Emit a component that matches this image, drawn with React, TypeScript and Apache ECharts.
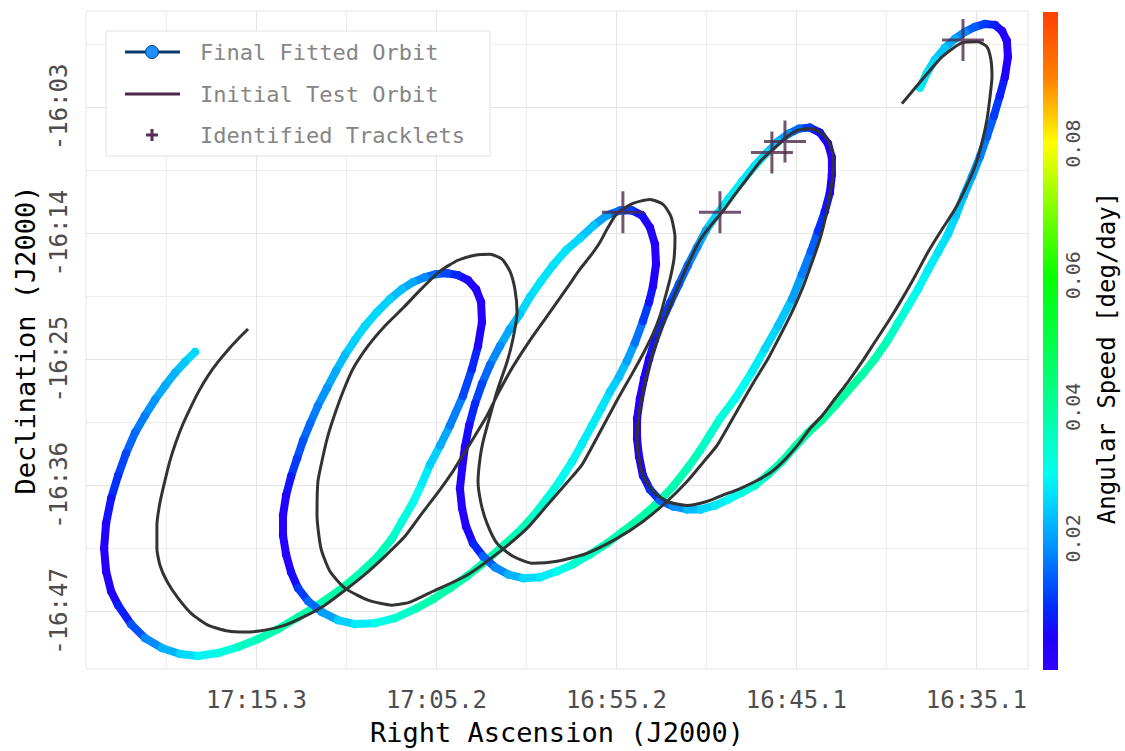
import React, { useEffect, useRef } from 'react';
import * as echarts from 'echarts';

// ---------- data (RA in minutes after 16h, Dec in arcmin relative to -16°00') ----------
const fittedRA = [
  78.73, 79.29, 79.85, 80.41, 80.97, 81.53, 82.08, 82.59, 83.03, 83.42,
  83.70, 83.81, 83.70, 83.42, 83.03, 82.31, 81.53, 80.58, 79.57, 78.57,
  77.45, 76.33, 75.22, 74.10, 72.98, 71.87, 70.75, 69.63, 68.52, 67.73,
  67.18, 66.56, 66.06, 65.61, 65.05, 64.50, 63.77, 63.27, 62.93, 62.71,
  62.76, 63.04, 63.49, 64.05, 64.66, 65.28, 65.89, 66.56, 67.18, 67.85,
  68.57, 69.24, 69.80, 70.36, 70.86, 71.36, 71.87, 72.31, 72.70, 73.04,
  73.37, 73.65, 73.82, 73.82, 73.65, 73.37, 72.98, 72.42, 71.64, 70.75,
  69.80, 68.68, 67.57, 66.34, 65.44, 64.50, 63.55, 62.65, 61.70, 60.75,
  59.86, 59.08, 58.35, 57.68, 57.12, 56.57, 56.06, 55.56, 55.06, 54.61,
  54.17, 53.72, 53.38, 53.16, 52.99, 53.05, 53.33, 53.78, 54.33, 55.00,
  55.73, 56.46, 57.24, 58.02, 58.74, 59.41, 60.03, 60.59, 61.15, 61.70,
  62.26, 62.71, 63.10, 63.43, 63.66, 63.82, 63.94, 63.82, 63.60, 63.21,
  62.65, 61.98, 61.26, 60.42, 59.47, 58.52, 57.63, 56.68, 55.73, 54.84,
  53.89, 52.94, 52.04, 51.21, 50.54, 49.98, 49.42, 48.58, 47.63, 46.91,
  46.18, 45.40, 44.84, 44.34, 43.95, 43.56, 43.28, 43.17, 43.17, 43.39,
  43.84, 44.40, 45.01, 45.57, 46.18, 46.80, 47.47, 48.19, 48.92, 49.59,
  50.20, 50.70, 51.21, 51.71, 52.21, 52.66, 53.05, 53.38, 53.66, 53.89,
  54.05, 54.05, 53.94, 53.72, 53.33, 52.77, 52.04, 51.26, 50.48, 49.70,
  48.97, 48.19, 47.47, 46.74, 45.96, 45.23, 44.51, 43.72, 43.00, 42.27,
  41.49, 40.77, 40.04, 39.48, 38.92, 38.36, 37.81, 37.25, 36.69, 36.24,
  35.80, 35.35, 34.90, 34.51, 34.12, 33.79, 33.51, 33.34, 33.40, 33.67,
  34.07, 34.62, 35.18, 35.74, 36.30, 36.86, 37.42, 37.86, 38.25,
];
const fittedDec = [
  -24.37, -25.24, -26.19, -27.32, -28.54, -29.93, -31.41, -33.23, -35.15, -37.15,
  -39.32, -41.50, -43.50, -45.24, -46.45, -48.10, -49.32, -50.19, -50.71, -50.89,
  -50.63, -50.10, -49.41, -48.54, -47.50, -46.45, -45.24, -43.84, -42.19, -40.63,
  -39.15, -37.50, -35.84, -34.19, -32.54, -30.80, -28.19, -25.84, -23.84, -21.76,
  -20.02, -18.89, -18.10, -17.67, -17.50, -17.58, -17.84, -18.28, -18.89, -19.76,
  -20.89, -22.10, -23.32, -24.63, -26.02, -27.50, -29.06, -30.63, -32.10, -33.67,
  -35.24, -36.89, -38.63, -40.37, -42.02, -43.58, -44.97, -46.10, -47.06, -47.76,
  -48.10, -48.02, -47.58, -46.71, -45.93, -44.97, -43.93, -42.80, -41.50, -40.19,
  -38.71, -37.15, -35.58, -33.93, -32.37, -30.80, -29.32, -27.84, -26.54, -25.15,
  -23.58, -21.67, -20.02, -18.63, -16.71, -14.97, -13.50, -12.45, -12.02, -12.02,
  -12.45, -13.32, -14.45, -15.50, -16.80, -18.19, -19.58, -21.06, -22.37, -23.84,
  -25.50, -27.15, -28.89, -30.80, -32.63, -34.54, -36.28, -38.02, -39.58, -41.06,
  -42.19, -43.15, -43.76, -44.10, -44.02, -43.50, -42.89, -42.02, -41.06, -40.02,
  -38.89, -37.58, -36.10, -34.45, -32.97, -31.58, -30.19, -28.45, -26.10, -24.10,
  -22.10, -19.76, -17.58, -15.58, -13.84, -12.10, -10.45, -8.89, -7.41, -6.19,
  -5.24, -4.80, -4.89, -5.32, -6.02, -6.97, -8.10, -9.50, -10.97, -12.37,
  -13.76, -15.24, -16.80, -18.45, -20.10, -21.67, -23.32, -24.97, -26.71, -28.45,
  -30.19, -31.93, -33.50, -35.15, -36.37, -37.32, -37.84, -38.10, -38.10, -37.76,
  -37.24, -36.63, -36.02, -35.06, -33.93, -32.63, -31.41, -30.28, -29.06, -27.76,
  -26.37, -24.97, -23.32, -21.84, -20.37, -18.89, -17.24, -15.67, -14.10, -12.45,
  -10.71, -9.06, -7.32, -5.58, -3.76, -2.02, -0.37, 1.37, 2.77, 3.63,
  4.16, 4.24, 3.98, 3.55, 2.94, 2.16, 1.11, -0.02, -1.32,
];
const fittedSpeed = [
  0.026, 0.024, 0.022, 0.021, 0.019, 0.017, 0.015, 0.012, 0.010, 0.007,
  0.004, 0.003, 0.003, 0.005, 0.008, 0.013, 0.018, 0.022, 0.026, 0.029,
  0.032, 0.035, 0.037, 0.038, 0.038, 0.038, 0.038, 0.037, 0.036, 0.034,
  0.032, 0.030, 0.028, 0.025, 0.021, 0.017, 0.012, 0.009, 0.005, 0.003,
  0.003, 0.004, 0.006, 0.009, 0.012, 0.015, 0.018, 0.021, 0.023, 0.025,
  0.026, 0.026, 0.025, 0.023, 0.021, 0.019, 0.017, 0.015, 0.013, 0.011,
  0.007, 0.004, 0.003, 0.003, 0.003, 0.006, 0.011, 0.015, 0.020, 0.025,
  0.028, 0.031, 0.034, 0.037, 0.038, 0.038, 0.038, 0.038, 0.037, 0.036,
  0.034, 0.032, 0.030, 0.029, 0.028, 0.028, 0.027, 0.025, 0.023, 0.020,
  0.016, 0.011, 0.007, 0.005, 0.003, 0.003, 0.004, 0.007, 0.011, 0.015,
  0.020, 0.024, 0.026, 0.027, 0.027, 0.027, 0.026, 0.024, 0.021, 0.018,
  0.015, 0.012, 0.009, 0.006, 0.004, 0.003, 0.003, 0.003, 0.005, 0.009,
  0.014, 0.018, 0.022, 0.026, 0.028, 0.031, 0.034, 0.036, 0.037, 0.038,
  0.038, 0.038, 0.037, 0.036, 0.035, 0.034, 0.032, 0.030, 0.028, 0.026,
  0.024, 0.020, 0.017, 0.014, 0.010, 0.007, 0.005, 0.003, 0.003, 0.004,
  0.007, 0.011, 0.015, 0.019, 0.023, 0.026, 0.027, 0.028, 0.028, 0.025,
  0.021, 0.018, 0.015, 0.013, 0.011, 0.009, 0.007, 0.005, 0.003, 0.003,
  0.003, 0.003, 0.004, 0.007, 0.010, 0.014, 0.019, 0.023, 0.026, 0.028,
  0.030, 0.032, 0.034, 0.036, 0.037, 0.038, 0.039, 0.039, 0.039, 0.039,
  0.038, 0.037, 0.035, 0.033, 0.031, 0.029, 0.028, 0.027, 0.026, 0.024,
  0.022, 0.020, 0.017, 0.014, 0.011, 0.008, 0.005, 0.003, 0.003, 0.005,
  0.008, 0.011, 0.014, 0.018, 0.021, 0.024, 0.026, 0.027, 0.028,
];

const testRA = [
  75.77, 76.33, 76.89, 77.45, 78.01, 78.51, 78.96, 79.40, 79.79, 80.13,
  80.41, 80.69, 80.86, 80.86, 80.69, 80.30, 79.68, 78.90, 78.01, 76.89,
  75.94, 74.83, 73.71, 72.59, 71.48, 70.36, 69.24, 68.13, 67.01, 66.06,
  65.05, 64.38, 63.82, 63.10, 62.43, 61.82, 61.15, 60.53, 59.86, 59.19,
  58.52, 57.85, 57.24, 56.62, 56.12, 55.67, 55.17, 54.28, 53.33, 52.60,
  52.16, 51.93, 51.99, 52.21, 52.49, 52.77, 53.16, 53.66, 54.33, 55.12,
  56.23, 57.12, 57.96, 59.08, 60.20, 61.70, 63.55, 65.44, 66.73, 67.73,
  69.07, 70.36, 71.20, 71.70, 71.92, 71.87, 71.59, 71.31, 70.92, 70.47,
  69.91, 69.07, 68.13, 67.12, 66.11, 65.05, 64.05, 63.10, 62.26, 61.59,
  61.15, 60.87, 60.75, 60.98, 61.31, 61.82, 62.26, 62.65, 62.82, 62.93,
  62.76, 62.43, 61.87, 60.98, 59.86, 58.52, 56.85, 55.17, 53.72, 52.38,
  51.26, 50.37, 49.59, 48.97, 48.30, 47.52, 46.74, 46.07, 45.40, 44.79,
  44.28, 43.84, 43.50, 43.28, 43.11, 43.11, 43.33, 43.72, 44.28, 44.95,
  45.51, 46.29, 47.13, 47.86, 48.58, 49.31, 49.92, 50.54, 51.15, 51.82,
  52.32, 52.77, 53.27, 53.66, 53.94, 54.05, 53.94, 53.72, 53.16, 52.38,
  51.26, 50.15, 49.31, 48.30, 47.35, 46.52, 45.74, 45.06, 44.40, 43.72,
  43.00, 42.27, 41.49, 40.77, 40.04, 39.26, 38.53, 37.81, 37.02, 36.30,
  35.74, 35.18, 34.79, 34.51, 34.34, 34.23, 34.29, 34.51, 35.01, 35.91,
  37.02, 38.14, 39.26,
];
const testDec = [
  -22.37, -23.24, -24.19, -25.24, -26.45, -27.76, -29.15, -30.63, -32.19, -33.84,
  -35.58, -37.50, -39.50, -41.50, -42.97, -44.37, -45.84, -47.24, -48.19, -48.71,
  -48.80, -48.63, -48.19, -47.41, -46.45, -45.15, -43.76, -42.19, -40.45, -38.45,
  -36.37, -34.89, -33.50, -31.67, -29.93, -28.02, -26.10, -24.54, -22.97, -21.50,
  -20.02, -18.54, -17.15, -15.93, -14.80, -13.50, -12.28, -11.41, -11.06, -11.50,
  -12.54, -14.37, -16.28, -18.02, -19.67, -21.24, -22.80, -24.37, -26.28, -28.45,
  -31.67, -34.19, -35.76, -37.76, -39.76, -41.76, -43.84, -45.24, -46.19, -46.45,
  -46.02, -44.97, -43.50, -41.50, -38.63, -35.67, -33.50, -31.67, -29.76, -27.84,
  -25.84, -23.84, -22.10, -20.54, -18.89, -17.32, -16.37, -15.93, -15.84, -16.28,
  -17.32, -18.89, -20.89, -23.24, -25.24, -27.58, -29.93, -32.19, -33.67, -35.67,
  -37.58, -39.32, -41.06, -42.19, -42.80, -42.63, -41.93, -40.63, -39.15, -37.41,
  -35.67, -34.02, -32.54, -30.89, -29.06, -26.97, -24.97, -22.97, -20.89, -18.71,
  -16.54, -14.54, -12.45, -10.63, -8.89, -7.24, -6.10, -5.32, -4.89, -4.97,
  -5.41, -6.45, -7.67, -9.15, -10.63, -12.19, -13.32, -14.63, -16.54, -18.89,
  -20.80, -22.63, -24.97, -27.41, -29.76, -31.93, -33.67, -35.15, -36.54, -37.41,
  -37.76, -37.41, -36.89, -36.28, -35.58, -34.80, -33.67, -32.45, -31.06, -29.93,
  -28.45, -26.97, -25.24, -23.50, -21.76, -19.76, -17.76, -15.67, -13.67, -11.93,
  -10.19, -8.19, -6.10, -4.10, -2.10, -0.37, 1.11, 2.24, 2.68, 2.59,
  1.37, -0.63, -2.71,
];

const trackletRA = [54.84, 49.42, 46.52, 45.79, 35.85];
const trackletDec = [-12.19, -12.19, -6.97, -6.02, 2.85];

const xTickValues = [75.3, 65.25, 55.2, 45.15, 35.1];
const xTickLabels = ['17:15.3', '17:05.2', '16:55.2', '16:45.1', '16:35.1'];
const xMinorValues = [80.325, 70.275, 60.225, 50.175, 40.125];
const yTickValues = [-3, -14, -25, -36, -47];
const yTickLabels = ['-16:03', '-16:14', '-16:25', '-16:36', '-16:47'];
const yMinorValues = [2.5, -8.5, -19.5, -30.5, -41.5];
const xRange = [32.22, 84.82];
const yRange = [-52.02, 5.37];

const speedRange = [0, 0.1];
const speedTicks = [0.02, 0.04, 0.06, 0.08];
const speedColors = [
  '#3300ff', '#1e00ff', '#0030ff', '#0068ff', '#00a0ff', '#00d0ff', '#00fff0',
  '#00ffc4', '#00ff98', '#00ff70', '#00ff48', '#00ff24', '#08ff00', '#44ff00',
  '#80ff00', '#c0ff00', '#ffff00', '#ffc000', '#ff8000', '#ff6000', '#ff4000',
];

const seriesNames = ['Final Fitted Orbit', 'Initial Test Orbit', 'Identified Tracklets'];
const speedTitle = 'Angular Speed [deg/day]';
const xTitle = 'Right Ascension (J2000)';
const yTitle = 'Declination (J2000)';

const FONT = '"DejaVu Sans Mono", monospace';
const PLUS_PATH = 'path://M19.5,0L22.5,0L22.5,19.5L42,19.5L42,22.5L22.5,22.5L22.5,42L19.5,42L19.5,22.5L0,22.5L0,19.5L19.5,19.5Z';

function nearestLabel(v: number, values: number[], labels: string[]) {
  let best = 0;
  for (let i = 1; i < values.length; i++) {
    if (Math.abs(values[i] - v) < Math.abs(values[best] - v)) best = i;
  }
  return labels[best];
}

export default function App() {
  const ref = useRef<HTMLDivElement>(null);

  useEffect(() => {
    document.body.style.margin = '0';
    if (!ref.current) return;
    const chart = echarts.init(ref.current, null, { renderer: 'svg' });

    const fittedData = fittedRA.map((ra, i) => [ra, fittedDec[i], fittedSpeed[i]]);
    const testData = testRA.map((ra, i) => [ra, testDec[i]]);
    const trackData = trackletRA.map((ra, i) => [ra, trackletDec[i]]);

    const gridLeft = 86, gridTop = 11, gridRight = 1125 - 1028, gridBottom = 751 - 671;
    const cbX = 1043, cbY = 12, cbW = 15, cbH = 658;

    const cbStops = speedColors.map((c, i) => ({ offset: i / (speedColors.length - 1), color: c }));

    const legendRows = [52, 94, 135];

    const graphic: any[] = [
      {
        type: 'rect', z: 100,
        shape: { x: 106, y: 31, width: 384, height: 125 },
        style: { fill: '#ffffff', stroke: '#e2e2e2', lineWidth: 1 },
      },
      {
        type: 'line', z: 101,
        shape: { x1: 125, y1: legendRows[0], x2: 180, y2: legendRows[0] },
        style: { stroke: '#0b3a6e', lineWidth: 3 },
      },
      {
        type: 'circle', z: 102,
        shape: { cx: 152, cy: legendRows[0], r: 6.5 },
        style: { fill: '#1e8fff', stroke: '#0b3a6e', lineWidth: 1 },
      },
      {
        type: 'line', z: 101,
        shape: { x1: 125, y1: legendRows[1], x2: 180, y2: legendRows[1] },
        style: { stroke: '#4d2548', lineWidth: 3 },
      },
      {
        type: 'line', z: 101,
        shape: { x1: 146, y1: legendRows[2], x2: 158, y2: legendRows[2] },
        style: { stroke: '#5a2d55', lineWidth: 3 },
      },
      {
        type: 'line', z: 101,
        shape: { x1: 152, y1: legendRows[2] - 6, x2: 152, y2: legendRows[2] + 6 },
        style: { stroke: '#5a2d55', lineWidth: 3 },
      },
      ...seriesNames.map((name, i) => ({
        type: 'text', z: 101, x: 200, y: legendRows[i],
        style: { text: name, fill: '#858585', font: `22px ${FONT}`, align: 'left', verticalAlign: 'middle' },
      })),
      {
        type: 'rect', z: 10,
        shape: { x: cbX, y: cbY, width: cbW, height: cbH },
        style: { fill: new echarts.graphic.LinearGradient(0, 1, 0, 0, cbStops) },
      },
      ...speedTicks.map((t) => ({
        type: 'text', z: 10,
        x: 1073,
        y: cbY + cbH - ((t - speedRange[0]) / (speedRange[1] - speedRange[0])) * cbH,
        rotation: Math.PI / 2,
        style: { text: t.toFixed(2), fill: '#4d4d4d', font: `20px ${FONT}`, align: 'center', verticalAlign: 'middle' },
      })),
      {
        type: 'text', z: 10, x: 1107, y: 358, rotation: Math.PI / 2,
        style: { text: speedTitle, fill: '#000000', font: `24px ${FONT}`, align: 'center', verticalAlign: 'middle' },
      },
    ];

    const option: any = {
      animation: false,
      backgroundColor: '#ffffff',
      grid: {
        left: gridLeft, right: gridRight, top: gridTop, bottom: gridBottom,
        show: true, borderColor: '#e4e4e4', borderWidth: 1, backgroundColor: 'transparent',
      },
      visualMap: {
        type: 'continuous', show: false, seriesIndex: 0, dimension: 2,
        min: speedRange[0], max: speedRange[1],
        inRange: { color: speedColors },
      },
      xAxis: [
        {
          type: 'value', inverse: true, min: xRange[0], max: xRange[1], position: 'bottom',
          axisLine: { show: false },
          axisTick: { show: false, customValues: xTickValues },
          axisLabel: {
            customValues: xTickValues,
            formatter: (v: number) => nearestLabel(v, xTickValues, xTickLabels),
            color: '#4d4d4d', fontSize: 24, fontFamily: FONT, margin: 19,
          },
          splitLine: { show: true, lineStyle: { color: '#e4e4e4', width: 1 } },
          name: xTitle, nameLocation: 'middle', nameGap: 50,
          nameTextStyle: { color: '#000000', fontSize: 27, fontFamily: FONT },
        },
        {
          type: 'value', inverse: true, min: xRange[0], max: xRange[1], position: 'top',
          axisLine: { show: false },
          axisTick: { show: false, customValues: xMinorValues },
          axisLabel: { show: false },
          splitLine: { show: true, lineStyle: { color: '#ededed', width: 1 } },
        },
      ],
      yAxis: [
        {
          type: 'value', min: yRange[0], max: yRange[1], position: 'left',
          axisLine: { show: false },
          axisTick: { show: false, customValues: yTickValues },
          axisLabel: {
            customValues: yTickValues,
            formatter: (v: number) => nearestLabel(v, yTickValues, yTickLabels),
            rotate: 90,
            color: '#4d4d4d', fontSize: 24, fontFamily: FONT, margin: 15,
          },
          splitLine: { show: true, lineStyle: { color: '#e4e4e4', width: 1 } },
          name: yTitle, nameLocation: 'middle', nameGap: 46, nameRotate: 90,
          nameTextStyle: { color: '#000000', fontSize: 27, fontFamily: FONT },
        },
        {
          type: 'value', min: yRange[0], max: yRange[1], position: 'right',
          axisLine: { show: false },
          axisTick: { show: false, customValues: yMinorValues },
          axisLabel: { show: false },
          splitLine: { show: true, lineStyle: { color: '#ededed', width: 1 } },
        },
      ],
      series: [
        {
          name: seriesNames[0],
          type: 'custom',
          xAxisIndex: 0, yAxisIndex: 0,
          dimensions: ['ra', 'dec', 'speed'],
          encode: { x: 0, y: 1 },
          data: fittedData,
          z: 2,
          renderItem: (params: any, api: any) => {
            const i = params.dataIndex;
            const p = api.coord([api.value(0), api.value(1)]);
            const color = api.visual('color');
            const children: any[] = [
              { type: 'circle', shape: { cx: p[0], cy: p[1], r: 4.2 }, style: { fill: color } },
            ];
            if (i < fittedData.length - 1) {
              const q = api.coord([fittedData[i + 1][0], fittedData[i + 1][1]]);
              children.push({
                type: 'line',
                shape: { x1: p[0], y1: p[1], x2: q[0], y2: q[1] },
                style: { stroke: color, lineWidth: 8, lineCap: 'round' },
              });
            }
            return { type: 'group', children };
          },
        },
        {
          name: seriesNames[1],
          type: 'line',
          xAxisIndex: 0, yAxisIndex: 0,
          data: testData,
          showSymbol: false,
          smooth: 0.2,
          z: 3,
          lineStyle: { color: '#333333', width: 3 },
          itemStyle: { color: '#333333' },
        },
        {
          name: seriesNames[2],
          type: 'scatter',
          xAxisIndex: 0, yAxisIndex: 0,
          data: trackData,
          symbol: PLUS_PATH,
          symbolSize: 42,
          z: 4,
          itemStyle: { color: '#4e2a4a' },
        },
      ],
      graphic,
    };

    chart.setOption(option);
    return () => chart.dispose();
  }, []);

  return (
    <div
      ref={ref}
      style={{ position: 'fixed', left: 0, top: 0, width: 1125, height: 751, background: '#fff' }}
    />
  );
}
